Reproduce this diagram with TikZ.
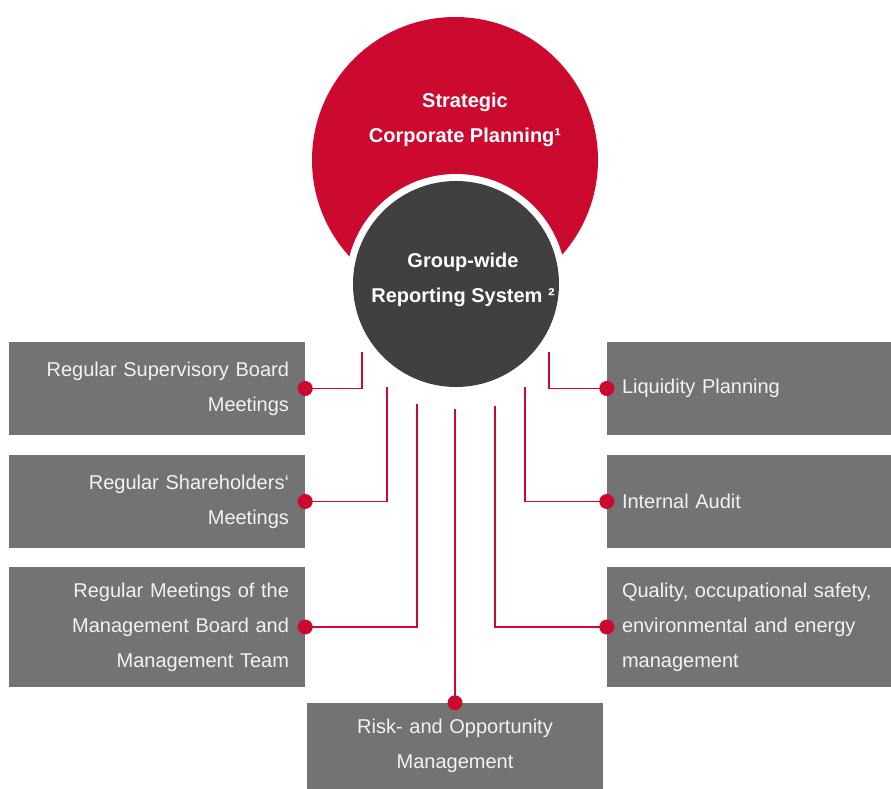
\documentclass[tikz,border=0pt]{standalone}
\usepackage{fontspec}
\setmainfont{Liberation Sans}

\definecolor{planred}{HTML}{CC0A30}
\definecolor{reportgray}{HTML}{404040}
\definecolor{boxgray}{HTML}{737373}
\definecolor{boxtext}{HTML}{F2F2F2}

\begin{document}
\begin{tikzpicture}[x=1pt,y=-1pt,
  box/.style={fill=boxgray,text=boxtext,inner sep=0pt,font=\fontsize{20}{35}\selectfont},
  circtext/.style={text=white,align=center,font=\bfseries\fontsize{20}{35}\selectfont},
  link/.style={planred,line width=1.5pt},
  dot/.style={circle,fill=planred,inner sep=0pt,minimum size=15pt}]

\useasboundingbox (0,0) rectangle (891,789);

% circles
\node[circle,fill=planred,inner sep=0pt,minimum size=286pt] (plan) at (455,160) {};
\node[circle,fill=white,inner sep=0pt,minimum size=220pt] (ring) at (456,284) {};
\node[circle,fill=reportgray,inner sep=0pt,minimum size=206pt] (report) at (456,284) {};
\node[circtext] (plantext) at (465,120) {Strategic\\Corporate Planning¹};
\node[circtext] (reporttext) at (463,280) {Group-wide\\Reporting System ²};

% left boxes
\node[box,minimum width=296pt,minimum height=93pt,text width=264pt,align=right] (sup) at (157,388.5) {Regular Supervisory Board\\Meetings};
\node[box,minimum width=296pt,minimum height=93pt,text width=264pt,align=right] (share) at (157,501.5) {Regular Shareholders‘\\Meetings};
\node[box,minimum width=296pt,minimum height=120pt,text width=264pt,align=right] (mgmt) at (157,627) {Regular Meetings of the\\Management Board and\\Management Team};

% right boxes
\node[box,minimum width=284pt,minimum height=93pt,text width=254pt,align=left] (liq) at (749,388.5) {Liquidity Planning};
\node[box,minimum width=284pt,minimum height=93pt,text width=254pt,align=left] (audit) at (749,501.5) {Internal Audit};
\node[box,minimum width=284pt,minimum height=120pt,text width=254pt,align=left] (qual) at (749,627) {Quality, occupational safety,\\environmental and energy\\management};

% bottom box
\node[box,minimum width=296pt,minimum height=86pt,text width=280pt,align=center] (risk) at (455,746) {Risk- and Opportunity\\Management};

% line ends under the circle
\coordinate (s1) at (362,352);
\coordinate (s2) at (387,387);
\coordinate (s3) at (417,404);
\coordinate (s4) at (455,409);
\coordinate (s5) at (495,406);
\coordinate (s6) at (525,387);
\coordinate (s7) at (549,352);

% connectors
\foreach \b/\s in {sup/s1,share/s2,mgmt/s3}
	\draw[link] (\b.east) -| (\s);
\foreach \b/\s in {liq/s7,audit/s6,qual/s5}
	\draw[link] (\b.west) -| (\s);
\draw[link] (risk.north) -- (s4);

% dots
\foreach \b in {sup,share,mgmt}
	\node[dot] (\b-dot) at (\b.east) {};
\foreach \b in {liq,audit,qual}
	\node[dot] (\b-dot) at (\b.west) {};
\node[dot] (risk-dot) at (risk.north) {};

\end{tikzpicture}
\end{document}
